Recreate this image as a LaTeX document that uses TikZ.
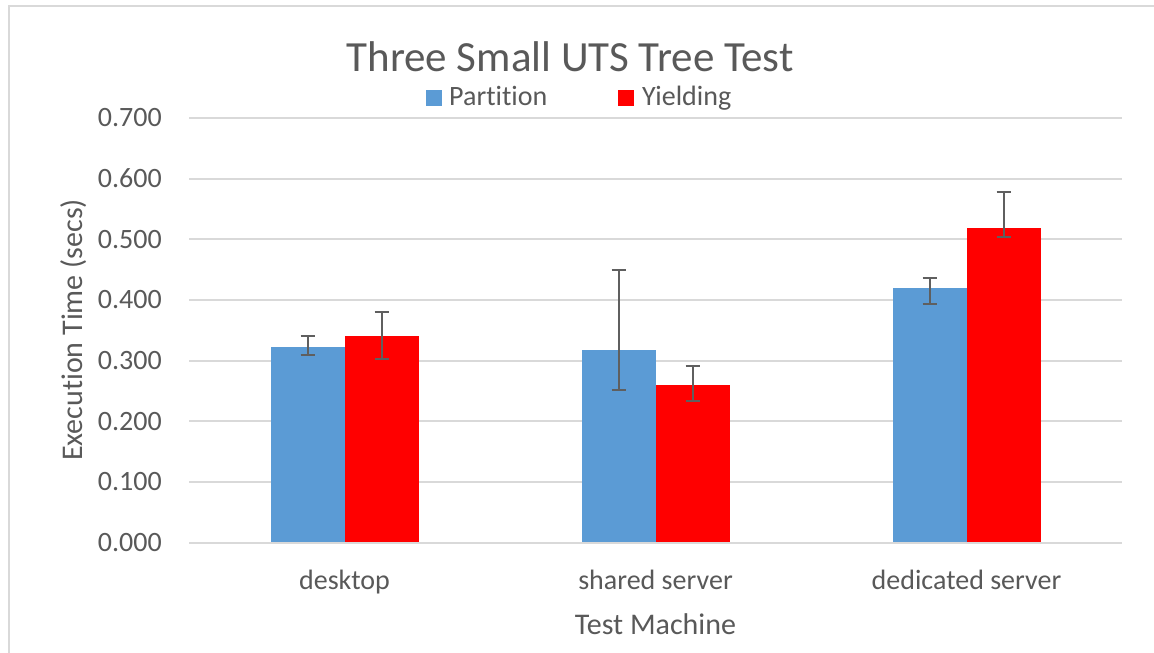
\documentclass[tikz,border=0pt]{standalone}
\usepackage{fontspec}
\setmainfont[Ligatures=NoCommon]{Carlito}
\definecolor{txt}{HTML}{595959}
\definecolor{gridgray}{HTML}{D9D9D9}
\definecolor{partblue}{HTML}{5B9BD5}
\definecolor{yieldred}{HTML}{FF0000}
\definecolor{errgray}{HTML}{5F5F5F}
\begin{document}
% one unit = 1pt, y grows downwards; value v sits at y = 542.7 - 607 v
\begin{tikzpicture}[x=1pt,y=-1pt,
  frame/.style={draw=gridgray,line width=2pt},
  gridline/.style={draw=gridgray,line width=2pt},
  ticklabel/.style={text=txt,font=\fontsize{28}{30}\selectfont,anchor=east,inner sep=0pt},
  catlabel/.style={text=txt,font=\fontsize{28}{30}\selectfont,anchor=base,inner sep=0pt},
  axistitle/.style={text=txt,font=\fontsize{30}{32}\selectfont,anchor=base,inner sep=0pt},
  charttitle/.style={text=txt,font=\fontsize{43}{46}\selectfont,anchor=base,inner sep=0pt},
  legendtext/.style={text=txt,font=\fontsize{28}{30}\selectfont,anchor=base west,inner sep=0pt},
  partbar/.style={fill=partblue},
  yieldbar/.style={fill=yieldred},
  errbar/.style={draw=errgray,line width=2pt}]
\useasboundingbox (0,0) rectangle (1154,653);
\fill[white] (0,0) rectangle (1154,653);
\draw[frame] (8.5,653) -- (8.5,6) -- (1154,6);

% horizontal grid and value axis labels
\foreach \i/\lab in {0/0.000,1/0.100,2/0.200,3/0.300,4/0.400,5/0.500,6/0.600,7/0.700}{
  \draw[gridline] (189,{542.7-60.7*\i}) -- (1122,{542.7-60.7*\i});
  \node[ticklabel] (tick\i) at (162,{542.7-60.7*\i}) {\lab};
}

% bars: group centre, Partition value, Yielding value, error ranges
\foreach \n/\cx/\pv/\yv/\plo/\phi/\ylo/\yhi in {
  a/344.5/0.323/0.341/0.3087/0.3405/0.3031/0.3806,
  b/655.5/0.317/0.260/0.251/0.449/0.233/0.291,
  c/966.5/0.419/0.519/0.3932/0.4356/0.5033/0.5773}{
  \fill[partbar] ({\cx-74},542.7) rectangle (\cx,{542.7-607*\pv});
  \fill[yieldbar] (\cx,542.7) rectangle ({\cx+74},{542.7-607*\yv});
  \draw[errbar] ({\cx-37},{542.7-607*\plo}) -- ({\cx-37},{542.7-607*\phi})
                ({\cx-44},{542.7-607*\plo}) -- ({\cx-30},{542.7-607*\plo})
                ({\cx-44},{542.7-607*\phi}) -- ({\cx-30},{542.7-607*\phi});
  \draw[errbar] ({\cx+37},{542.7-607*\ylo}) -- ({\cx+37},{542.7-607*\yhi})
                ({\cx+30},{542.7-607*\ylo}) -- ({\cx+44},{542.7-607*\ylo})
                ({\cx+30},{542.7-607*\yhi}) -- ({\cx+44},{542.7-607*\yhi});
}
\draw[gridline] (189,542.7) -- (1122,542.7);

% category labels
\node[catlabel] (desk) at (344.5,589.3) {desktop};
\node[catlabel] (shared) at (655.5,589.3) {shared server};
\node[catlabel] (dedic) at (966.5,589.3) {dedicated server};

% axis titles
\node[axistitle] (xtitle) at (655.5,634.3) {Test Machine};
\node[axistitle,rotate=90] (ytitle) at (82,330) {Execution Time (secs)};

% chart title and legend
\node[charttitle] (title) at (570,71) {Three Small UTS Tree Test};
\fill[partblue] (426,90) rectangle (442,106);
\node[legendtext] (legP) at (449,105.7) {Partition};
\fill[yieldred] (618.3,90) rectangle (634.3,106);
\node[legendtext] (legY) at (642,105.7) {Yielding};
\end{tikzpicture}
\end{document}
